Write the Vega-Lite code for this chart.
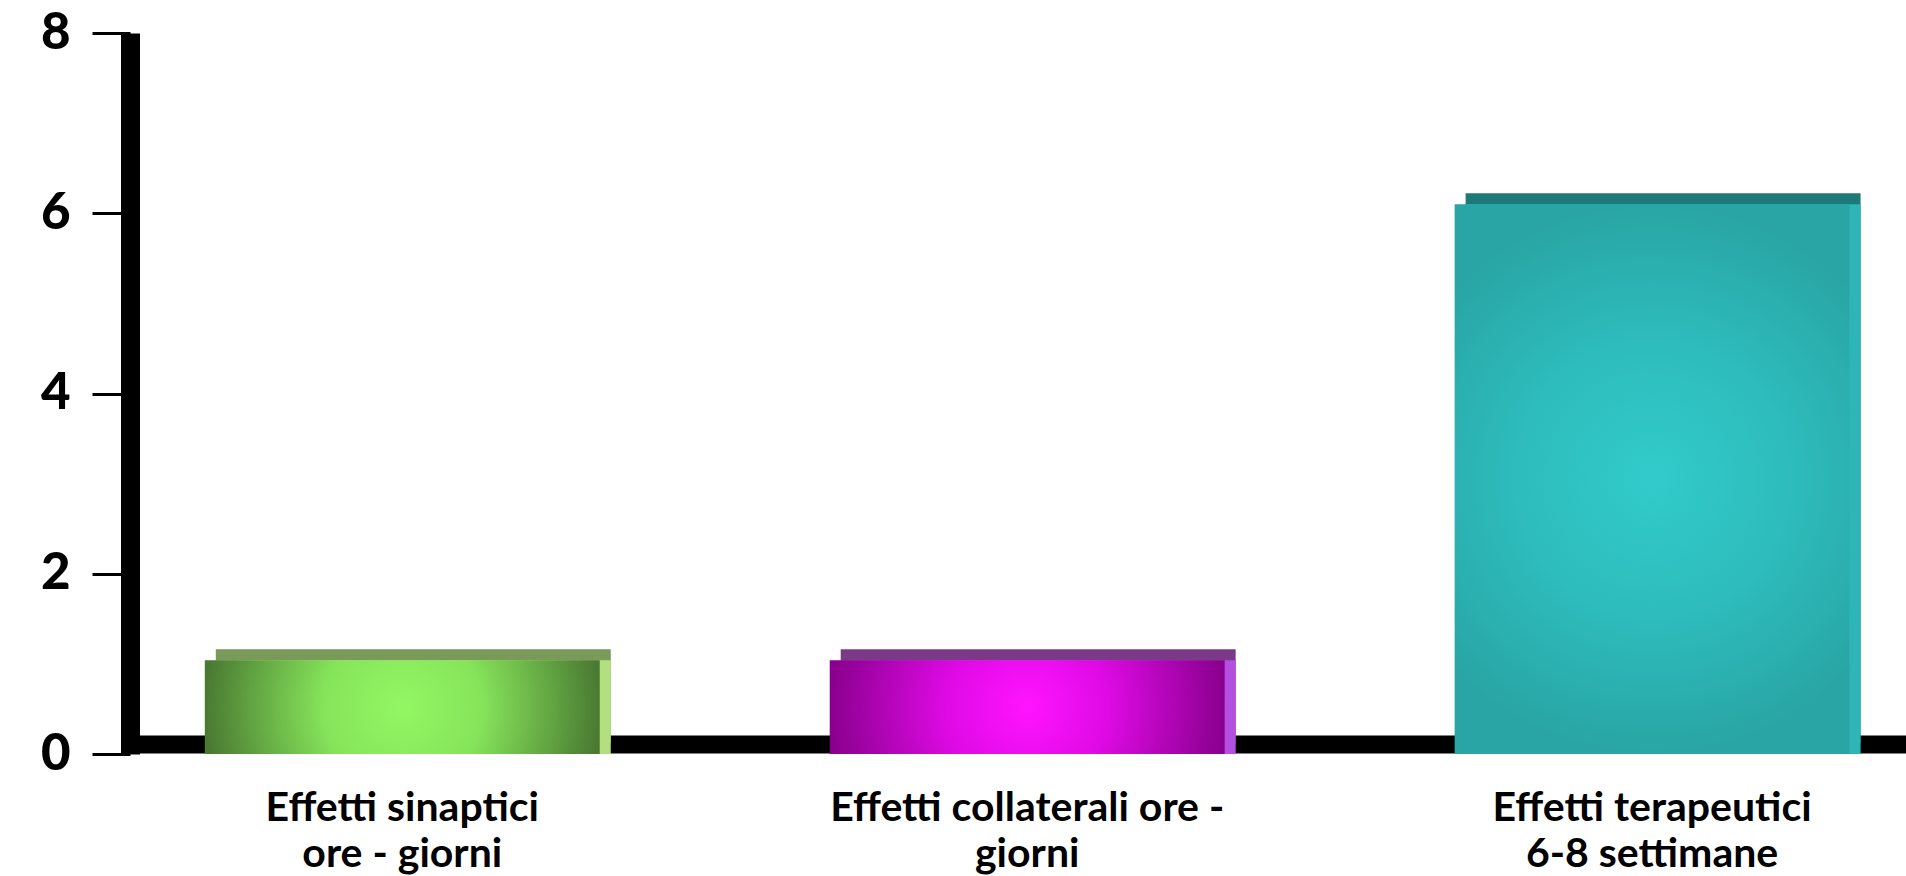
{
  "$schema": "https://vega.github.io/schema/vega-lite/v6.json",
  "width": 1776,
  "height": 721,
  "autosize": "none",
  "padding": {"left": 130, "top": 33, "right": 0, "bottom": 122},
  "background": "white",
  "config": {"view": {"stroke": null}, "font": "Lato"},
  "data": {"values": [
    {"cat": "Effetti sinaptici|ore - giorni", "v": 1.04},
    {"cat": "Effetti collaterali ore -|giorni", "v": 1.04},
    {"cat": "Effetti terapeutici|6-8 settimane", "v": 6.1}
  ]},
  "encoding": {
    "x": {"field": "cat", "type": "nominal", "sort": null,
      "scale": {"paddingInner": 0.368, "paddingOuter": 0.105, "align": 0.57},
      "axis": {"title": null, "labelAngle": 0, "labelExpr": "split(datum.label, '|')", "labelFont": "Lato", "labelFontSize": 41, "labelFontWeight": "bold", "labelColor": "black", "labelLineHeight": 46, "labelBaseline": "top", "labelPadding": 44, "ticks": false, "domainColor": "black", "domainWidth": 18, "offset": -10, "labelLimit": 700}},
    "y": {"field": "v", "type": "quantitative",
      "scale": {"domain": [0, 8], "nice": false},
      "axis": {"title": null, "values": [0, 2, 4, 6, 8], "grid": false, "labelFont": "Lato", "labelFontSize": 51, "labelFontWeight": 900, "labelColor": "black", "tickColor": "black", "tickSize": 38, "tickWidth": 3, "labelPadding": 22, "domainColor": "black", "domainWidth": 19}}
  },
  "layer": [
    {"mark": {"type": "bar", "xOffset": 11, "yOffset": -11},
     "encoding": {"color": {"field": "cat", "type": "nominal", "legend": null, "scale": {"domain": ["Effetti sinaptici|ore - giorni", "Effetti collaterali ore -|giorni", "Effetti terapeutici|6-8 settimane"], "range": ["#7a9a5a", "#7a3a88", "#1e7a78"]}}}},
    {"mark": {"type": "bar", "xOffset": 11},
     "encoding": {"color": {"field": "cat", "type": "nominal", "legend": null, "scale": {"domain": ["Effetti sinaptici|ore - giorni", "Effetti collaterali ore -|giorni", "Effetti terapeutici|6-8 settimane"], "range": ["#b2e080", "#b450e0", "#2eb6b6"]}}}},
    {"transform": [{"filter": "indexof(datum.cat, 'sinaptici') >= 0"}],
     "mark": {"type": "bar", "color": {"gradient": "radial", "x1": 0.5, "y1": 0.5, "r1": 0, "x2": 0.5, "y2": 0.5, "r2": 0.5, "stops": [{"offset": 0, "color": "#93f763"}, {"offset": 0.4, "color": "#86e45a"}, {"offset": 1, "color": "#4a7a32"}]}}},
    {"transform": [{"filter": "indexof(datum.cat, 'collaterali') >= 0"}],
     "mark": {"type": "bar", "color": {"gradient": "radial", "x1": 0.5, "y1": 0.5, "r1": 0, "x2": 0.5, "y2": 0.5, "r2": 0.5, "stops": [{"offset": 0, "color": "#ff14ff"}, {"offset": 0.4, "color": "#e00ae6"}, {"offset": 1, "color": "#8a008e"}]}}},
    {"transform": [{"filter": "indexof(datum.cat, 'terapeutici') >= 0"}],
     "mark": {"type": "bar", "color": {"gradient": "radial", "x1": 0.5, "y1": 0.5, "r1": 0, "x2": 0.5, "y2": 0.5, "r2": 0.5, "stops": [{"offset": 0, "color": "#32cbcb"}, {"offset": 0.5, "color": "#2ebcbc"}, {"offset": 1, "color": "#29a5a5"}]}}}
  ],
  "resolve": {"scale": {"color": "independent"}}
}
